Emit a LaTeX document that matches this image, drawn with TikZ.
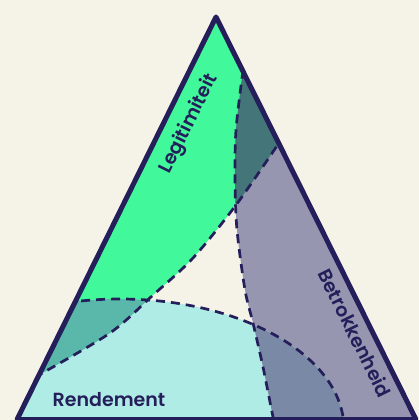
\documentclass[tikz,border=0pt]{standalone}
\usepackage{fontspec}
\setmainfont{Poppins}[BoldFont={Poppins SemiBold}]
\usepackage{xcolor}
\usetikzlibrary{positioning}

\definecolor{navy}{HTML}{241E5A}
\definecolor{cream}{HTML}{F5F2E7}
\definecolor{legcol}{HTML}{41F99B}
\definecolor{betcol}{HTML}{9796B0}
\definecolor{rencol}{HTML}{B0ECE6}
\definecolor{legbetcol}{HTML}{447578}
\definecolor{legrencol}{HTML}{5AB8AA}
\definecolor{betrencol}{HTML}{7A89A6}

% borders of the three regions
\newcommand{\legcurve}{plot[smooth] coordinates {(8,392) (39,375) (110,333) (152,296) (193,258) (236,205) (279,143) (300,112)}}
\newcommand{\betcurve}{plot[smooth] coordinates {(247,40) (243,70) (236,130) (235,180) (237,230) (245,290) (253,323) (263,367) (273,417) (278,440)}}
\newcommand{\renshape}{(120,429) ellipse [x radius=224, y radius=130]}
\newcommand{\outline}{(216,17) -- (416,419.5) -- (17,419.5) -- cycle}

\begin{document}
\begin{tikzpicture}[
			x=1pt, y=-1pt,
			border/.style={
				draw=navy,
				line width=5pt,
				line join=round
			},
			split/.style={
				draw=navy,
				line width=2.7pt,
				dash pattern=on 9pt off 6pt
			},
			label/.style={
				text=navy,
				font=\fontsize{19}{19}\selectfont\bfseries,
				inner sep=0pt
			}
			]
			
			% Background
			
			\fill[cream] (0,0) rectangle (419,420);
			\useasboundingbox (0,0) rectangle (419,420);
			
			% Regions
			
			\begin{scope}
				\clip \outline;
				\fill[legcol] \legcurve -- (300,0) -- (0,0) -- (0,392) -- cycle;
				\fill[betcol] \betcurve -- (440,440) -- (440,40) -- cycle;
				\fill[rencol] \renshape;
				
				% Overlaps
				
				\begin{scope}
					\clip \legcurve -- (300,0) -- (0,0) -- (0,392) -- cycle;
					\fill[legbetcol] \betcurve -- (440,440) -- (440,40) -- cycle;
					\fill[legrencol] \renshape;
				\end{scope}
				\begin{scope}
					\clip \betcurve -- (440,440) -- (440,40) -- cycle;
					\fill[betrencol] \renshape;
				\end{scope}
				
				% Dashed borders
				
				\draw[split] \legcurve;
				\draw[split] \betcurve;
				\draw[split] \renshape;
			\end{scope}
			
			\draw[border] \outline;
			
			% Labels
			
			\node [label, rotate=63.7] (leg) at (189,124) {Legitimiteit};
			\node [label, rotate=-63.7] (bet) at (355,333) {Betrokkenheid};
			\node [label] (ren) at (109,400) {Rendement};
			
		\end{tikzpicture}
\end{document}
